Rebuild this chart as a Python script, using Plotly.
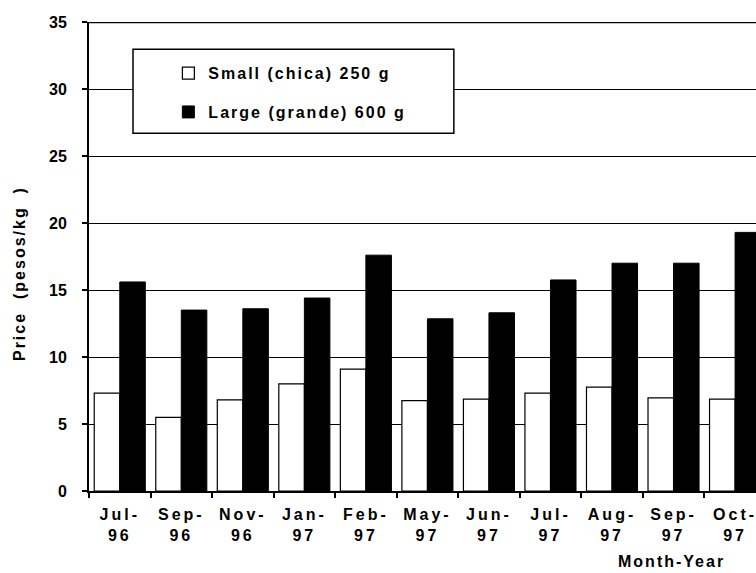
import plotly.graph_objects as go

# Monthly retail prices (pesos/kg) by package size
months = ["Jul-96", "Sep-96", "Nov-96", "Jan-97", "Feb-97", "May-97",
          "Jun-97", "Jul-97", "Aug-97", "Sep-97", "Oct-97"]
small_price = [7.3, 5.5, 6.8, 8.0, 9.1, 6.75, 6.85, 7.3, 7.75, 6.95, 6.85]
large_price = [15.6, 13.5, 13.6, 14.4, 17.6, 12.85, 13.3, 15.75, 17.0, 17.0, 19.3]
y_ticks = [0, 5, 10, 15, 20, 25, 30, 35]

series_names = ["Small (chica) 250 g", "Large (grande) 600 g"]
x_title = "Month-Year"
y_title = "Price\u00a0\u00a0(pesos/kg\u00a0\u00a0)"

FONT = "Liberation Sans, Arial, sans-serif"


def spaced(text, px=2):
    return f"<span style='letter-spacing:{px}px'>{text}</span>"


def month_label(m):
    mon, yr = m.split("-")
    return spaced(mon + "-", 3) + "<br>" + spaced(yr, 3)


fig = go.Figure()
fig.add_trace(go.Bar(
    x=months, y=small_price, name=spaced(series_names[0]),
    marker=dict(color="white", line=dict(color="black", width=1.2)),
    legendgroup="small",
))
fig.add_trace(go.Bar(
    x=months, y=large_price, name=spaced(series_names[1]),
    marker=dict(color="black", line=dict(color="black", width=1)),
    legendgroup="large",
))

fig.update_layout(
    width=756, height=573,
    margin=dict(l=89, r=0, t=22, b=82),
    paper_bgcolor="white", plot_bgcolor="white",
    barmode="group", bargap=0.17, bargroupgap=0,
    font=dict(family=FONT, size=16, color="black", weight="bold"),
    showlegend=True,
    legend=dict(
        x=0.119, y=0.927, xanchor="left", yanchor="top",
        bgcolor="rgba(0,0,0,0)", borderwidth=0,
        tracegroupgap=15, traceorder="grouped",
        font=dict(family=FONT, size=16, color="black", weight="bold"),
    ),
    xaxis=dict(
        type="category",
        range=[-0.5, 10.34],
        tickmode="array", tickvals=months,
        ticktext=[month_label(m) for m in months],
        tickson="boundaries",
        ticks="outside", ticklen=5, tickwidth=1.5, tickcolor="black",
        showline=True, linecolor="black", linewidth=1.5,
        showgrid=False, zeroline=False,
        ticklabelstandoff=8,
        tickfont=dict(family=FONT, size=16, color="black", weight="bold"),
    ),
    yaxis=dict(
        range=[0, 35],
        tickmode="array", tickvals=y_ticks,
        ticks="outside", ticklen=5, tickwidth=1.5, tickcolor="black",
        showline=True, linecolor="black", linewidth=2,
        showgrid=True, gridcolor="black", gridwidth=1,
        zeroline=False,
        ticklabelstandoff=12,
        tickfont=dict(family=FONT, size=16, color="black", weight="bold"),
    ),
    shapes=[
        # top border of the plot area
        dict(type="line", xref="paper", yref="y", x0=0, x1=1, y0=35, y1=35,
             line=dict(color="black", width=2.5)),
        # legend frame
        dict(type="rect", xref="paper", yref="paper",
             x0=0.066, x1=0.547, y0=0.763, y1=0.942,
             fillcolor="white", line=dict(color="black", width=1.5),
             layer="above"),
    ],
    annotations=[
        dict(text=spaced(y_title), textangle=-90,
             xref="paper", yref="paper", x=-0.1034, y=0.4627,
             xanchor="center", yanchor="middle", showarrow=False,
             font=dict(family=FONT, size=16, color="black", weight="bold")),
        dict(text=spaced(x_title), xref="paper", yref="paper",
             x=0.874, y=-0.150, xanchor="center", yanchor="middle",
             showarrow=False,
             font=dict(family=FONT, size=16, color="black", weight="bold")),
    ],
)

fig.write_html("out.html")
